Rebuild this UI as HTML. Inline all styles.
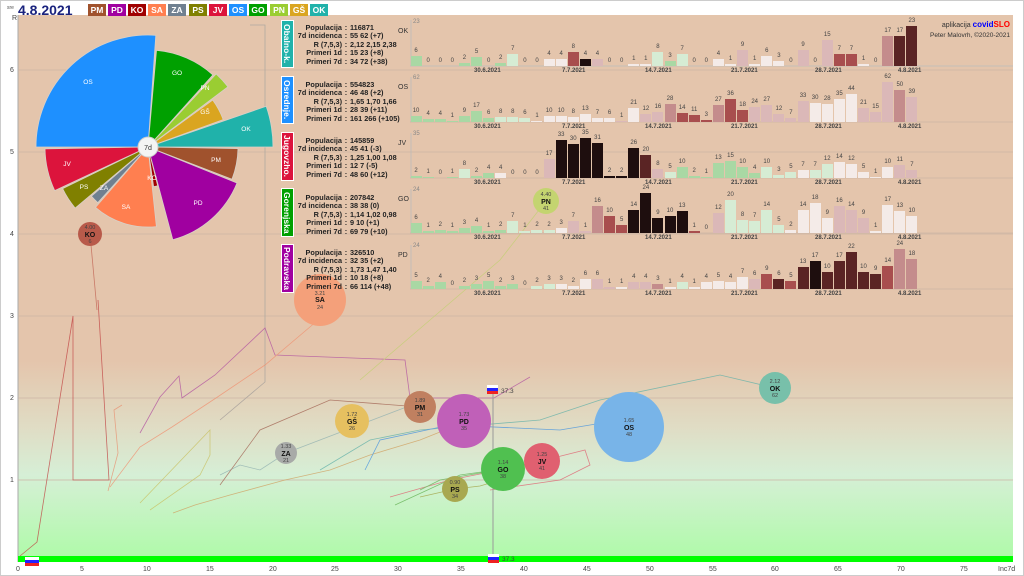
<!DOCTYPE html>
<html><head><meta charset="utf-8"><style>
*{margin:0;padding:0;box-sizing:border-box}
body{width:1024px;height:576px;position:relative;overflow:hidden;background:#fff;font-family:"Liberation Sans",sans-serif}
.frame{position:absolute;left:0;top:0;width:1024px;height:576px;border:1px solid #ccc}
.tag{position:absolute;top:4px;height:12px;width:18px;color:#fff;font:bold 8.5px "Liberation Sans",sans-serif;text-align:center;line-height:12px}
.pill{position:absolute;left:281px;width:13px;color:#fff;font:bold 8.5px "Liberation Sans",sans-serif;writing-mode:vertical-rl;text-align:center;line-height:13px;border:1px solid #fff}
.info{position:absolute;left:290px;font:bold 7.3px "Liberation Sans",sans-serif;color:#222;line-height:8.4px}
.info div{display:flex}.info span:first-child{width:52px;text-align:right}.info span:nth-child(2){width:8px;text-align:center}
.row{position:absolute;left:410px;height:64px;display:flex;align-items:flex-end}
.row b{width:12.1px;display:flex;flex-direction:column;align-items:center;font:6px "Liberation Sans",sans-serif;color:#444;line-height:7px}
.row b::after{content:"";display:block;width:11px;height:calc(var(--v)*var(--k));background:var(--c,#a9d8a4);margin-top:1px}
.g{--c:#a9d8a4}.l{--c:#d6ecd4}.w{--c:#f4ebe8}.p{--c:#dbb8b8}.q{--c:#c48c8c}.r{--c:#a84e4e}.m{--c:#5a2424}.d{--c:#1e0e0e}
.dt{position:absolute;font:bold 6px "Liberation Sans",sans-serif;color:#444}
.code{position:absolute;left:398px;font:7px "Liberation Sans",sans-serif;color:#333}
.mx{position:absolute;left:413px;font:6px "Liberation Sans",sans-serif;color:#888}
</style></head><body>
<svg width="1024" height="576" style="position:absolute;left:0;top:0">
<defs><linearGradient id="bg" x1="0" y1="0" x2="0" y2="1">
<stop offset="0" stop-color="#e4c5ac"/><stop offset="0.64" stop-color="#e4c5ac"/><stop offset="0.76" stop-color="#e0dcc4"/><stop offset="0.85" stop-color="#d6efd6"/><stop offset="1" stop-color="#b0faaa"/></linearGradient></defs>
<rect x="18" y="15" width="995" height="541" fill="url(#bg)"/>
<line x1="18" y1="15" x2="18" y2="562" stroke="#aaa"/>
<g stroke="#cdb5a5" stroke-width="0.8">
<line x1="18" y1="70" x2="1013" y2="70"/><line x1="18" y1="152" x2="1013" y2="152"/><line x1="18" y1="234" x2="1013" y2="234"/><line x1="18" y1="316" x2="1013" y2="316"/><line x1="18" y1="398" x2="1013" y2="398"/><line x1="18" y1="480" x2="1013" y2="480"/>
<line x1="410" y1="122" x2="1013" y2="122"/><line x1="410" y1="178" x2="1013" y2="178"/><line x1="410" y1="233" x2="1013" y2="233"/><line x1="410" y1="289" x2="1013" y2="289"/>
</g>
<polyline points="250,25 265,25 265,382 220,420" fill="none" stroke="#b0a8a0" stroke-width="0.8"/>
<rect x="18" y="556" width="995" height="6" fill="#0f0"/>
<g font-size="7" fill="#444">
<text x="12" y="20">R</text><text x="10" y="72">6</text><text x="10" y="154">5</text><text x="10" y="236">4</text><text x="10" y="318">3</text><text x="10" y="400">2</text><text x="10" y="482">1</text>
<text x="16" y="571">0</text><text x="80" y="571">5</text><text x="143" y="571">10</text><text x="206" y="571">15</text><text x="269" y="571">20</text><text x="331" y="571">25</text><text x="394" y="571">30</text><text x="457" y="571">35</text><text x="520" y="571">40</text><text x="583" y="571">45</text><text x="646" y="571">50</text><text x="709" y="571">55</text><text x="771" y="571">60</text><text x="834" y="571">65</text><text x="897" y="571">70</text><text x="960" y="571">75</text><text x="998" y="571">Inc7d</text>
</g>
<g fill="none" stroke-width="0.8" opacity="0.75">
<polyline points="20,556 37,542 73,316 73,480 109,480 98,300" stroke="#c04040"/>
<polyline points="108,491 118,453 114,410 122,405" stroke="#e89070"/>
<polyline points="140,433 160,397 179,376 182,398 215,375 265,328 275,355 300,356 405,360 410,398 494,398 530,377" stroke="#b050a0"/>
<polyline points="110,487 140,447 172,427 216,398 265,365 330,310" stroke="#f09070"/>
<polyline points="140,503 210,430 210,455 200,475 150,510" stroke="#c8c060"/>
<polyline points="220,475 240,465 260,470 286,453 320,440 430,398" stroke="#90b0b0"/>
<polyline points="173,513 195,505 230,495 285,480 330,470 370,455 420,440 470,420" stroke="#d0a060"/>
<polyline points="220,485 260,430 330,400 420,407" stroke="#a06050"/>
<polyline points="320,470 370,440 420,430 540,420 600,400 720,375 775,388" stroke="#60b0a8"/>
<polyline points="365,470 380,440 450,425 560,430 620,420 629,427" stroke="#4090e0"/>
<polyline points="390,497 450,480 500,470 545,460 585,450 590,465 560,480 490,490" stroke="#e06070"/>
<polyline points="395,505 460,475 503,469 440,480 420,490" stroke="#60b050"/>
<polyline points="420,497 455,489 480,486 500,480" stroke="#a0a040"/>
<polyline points="90,234 97,310" stroke="#c06050"/>
<polyline points="546,201 500,260 430,320 360,380" stroke="#c0d070"/>
</g>
<line x1="493" y1="392" x2="493" y2="558" stroke="#999"/>
<rect x="487" y="385" width="11" height="3" fill="#fff"/><rect x="487" y="388" width="11" height="3" fill="#22f"/><rect x="487" y="391" width="11" height="3" fill="#e22"/>
<text x="501" y="393" font-size="6.5" fill="#444">37.3</text>
<rect x="488" y="554" width="11" height="3" fill="#fff"/><rect x="488" y="557" width="11" height="3" fill="#22f"/><rect x="488" y="560" width="11" height="3" fill="#e22"/>
<text x="502" y="561" font-size="6.5" fill="#444">37.3</text>
<rect x="25" y="557" width="14" height="3" fill="#fff"/><rect x="25" y="560" width="14" height="3" fill="#22f"/><rect x="25" y="563" width="14" height="3" fill="#e22"/>
<g stroke="#d8d0c8" stroke-width="0.8">
<path d="M148 147 L36 147 A112 112 0 0 1 155.8 35.3 Z" fill="#1e90ff"/>
<path d="M148 147 L156.5 50.4 A97 97 0 0 1 212.9 74.9 Z" fill="#00a000"/>
<path d="M148 147 L216.2 73.9 A100 100 0 0 1 227.9 86.8 Z" fill="#9acd32"/>
<path d="M148 147 L212.7 100 A80 80 0 0 1 223.2 119.6 Z" fill="#daa520"/>
<path d="M148 147 L266.2 106.3 A125 125 0 0 1 273 147 Z" fill="#20b2aa"/>
<path d="M148 147 L238 148.6 A90 90 0 0 1 232 179.2 Z" fill="#a0522d"/>
<path d="M148 147 L237 183 A96 96 0 0 1 172.8 239.7 Z" fill="#a000a0"/>
<path d="M148 147 L157.7 185.8 A40 40 0 0 1 153.6 186.6 Z" fill="#a00000"/>
<path d="M148 147 L156.4 226.6 A80 80 0 0 1 95.5 207.4 Z" fill="#ff7f50"/>
<path d="M148 147 L97.8 202.7 A75 75 0 0 1 91.4 196.2 Z" fill="#708090"/>
<path d="M148 147 L75.2 208.1 A95 95 0 0 1 62.6 188.6 Z" fill="#808000"/>
<path d="M148 147 L54.7 190.6 A103 103 0 0 1 45 148.8 Z" fill="#dc143c"/>
</g>
<g font-size="6.5" fill="#fff" text-anchor="middle">
<text x="88" y="84">OS</text><text x="177" y="75">GO</text><text x="205" y="90">PN</text><text x="205" y="114">GŠ</text><text x="246" y="131">OK</text><text x="216" y="162">PM</text><text x="198" y="205">PD</text><text x="152" y="180">KO</text><text x="126" y="209">SA</text><text x="104" y="190">ZA</text><text x="84" y="189">PS</text><text x="67" y="166">JV</text>
</g>
<circle cx="148" cy="147" r="10" fill="#f4f4f4" stroke="#ccc"/><text x="148" y="150" font-size="7" text-anchor="middle" fill="#333">7d</text>
<g text-anchor="middle">
<circle cx="90" cy="234" r="12" fill="#b85a4a"/>
<circle cx="320" cy="300" r="26" fill="#f4a07a"/>
<circle cx="546" cy="201" r="13" fill="#c4d470"/>
<circle cx="352" cy="421" r="17" fill="#e6c060"/>
<circle cx="420" cy="407" r="16" fill="#c08060"/>
<circle cx="464" cy="421" r="27" fill="#c060b8"/>
<circle cx="286" cy="453" r="11" fill="#a8aaa8"/>
<circle cx="503" cy="469" r="22" fill="#50c050"/>
<circle cx="542" cy="461" r="18" fill="#e06070"/>
<circle cx="455" cy="489" r="13" fill="#a8a850"/>
<circle cx="629" cy="427" r="35" fill="#78b4e8"/>
<circle cx="775" cy="388" r="16" fill="#78c0aa"/>
<g font-size="5.5" fill="#444">
<text x="90" y="229">4.00</text><text x="90" y="243">6</text>
<text x="320" y="295">3.21</text><text x="320" y="309">24</text>
<text x="546" y="196">4.40</text><text x="546" y="210">41</text>
<text x="352" y="416">1.72</text><text x="352" y="430">26</text>
<text x="420" y="402">1.89</text><text x="420" y="416">31</text>
<text x="464" y="416">1.73</text><text x="464" y="430">35</text>
<text x="286" y="448">1.33</text><text x="286" y="462">21</text>
<text x="503" y="464">1.14</text><text x="503" y="478">38</text>
<text x="542" y="456">1.25</text><text x="542" y="470">41</text>
<text x="455" y="484">0.90</text><text x="455" y="498">34</text>
<text x="629" y="422">1.65</text><text x="629" y="436">48</text>
<text x="775" y="383">2.12</text><text x="775" y="397">62</text>
</g>
<g font-size="7" font-weight="bold" fill="#111">
<text x="90" y="237">KO</text><text x="320" y="302">SA</text><text x="546" y="204">PN</text><text x="352" y="424">GŠ</text><text x="420" y="410">PM</text><text x="464" y="424">PD</text><text x="286" y="456">ZA</text><text x="503" y="472">GO</text><text x="542" y="464">JV</text><text x="455" y="492">PS</text><text x="629" y="430">OS</text><text x="775" y="391">OK</text>
</g></g>
<g stroke="#bbb" stroke-width="0.8">
<line x1="411" y1="20" x2="411" y2="66"/><line x1="411" y1="77" x2="411" y2="122"/><line x1="411" y1="133" x2="411" y2="178"/><line x1="411" y1="189" x2="411" y2="233"/><line x1="411" y1="245" x2="411" y2="289"/>
<line x1="410" y1="66" x2="1013" y2="66"/>
</g>
<text x="1010" y="27" font-size="7" text-anchor="end" fill="#333">aplikacija <tspan fill="#00f" font-weight="bold" font-size="8">covid</tspan><tspan fill="#f00" font-weight="bold" font-size="8">SLO</tspan></text>
<text x="1010" y="37" font-size="6.5" text-anchor="end" fill="#333">Peter Malovrh, ©2020-2021</text>
</svg>

<div style="position:absolute;left:7px;top:5px;font-size:5px;color:#555">sre</div>
<div style="position:absolute;left:18px;top:2px;font:bold 14px 'Liberation Sans',sans-serif;color:#1a237e">4.8.2021</div>
<div class="tag" style="left:88px;background:#a0522d">PM</div>
<div class="tag" style="left:108px;background:#a000a0">PD</div>
<div class="tag" style="left:128px;background:#a00000">KO</div>
<div class="tag" style="left:148px;background:#ff7f50">SA</div>
<div class="tag" style="left:168px;background:#708090">ZA</div>
<div class="tag" style="left:189px;background:#808000">PS</div>
<div class="tag" style="left:209px;background:#dc143c">JV</div>
<div class="tag" style="left:229px;background:#1e90ff">OS</div>
<div class="tag" style="left:249px;background:#00a000">GO</div>
<div class="tag" style="left:270px;background:#9acd32">PN</div>
<div class="tag" style="left:290px;background:#daa520">GŠ</div>
<div class="tag" style="left:310px;background:#20b2aa">OK</div>

<div class="pill" style="top:20px;height:48px;background:#20b2aa">Obalno-k.</div>
<div class="pill" style="top:76px;height:48px;background:#1e90ff">Osrednje.</div>
<div class="pill" style="top:132px;height:49px;background:#dc143c">Jugovzho.</div>
<div class="pill" style="top:188px;height:49px;background:#00a000">Gorenjska</div>
<div class="pill" style="top:244px;height:49px;background:#a000a0">Podravska</div>

<div class="info" style="top:24px"><div><span>Populacija</span><span>:</span><span>116871</span></div><div><span>7d incidenca</span><span>:</span><span>55 62 (+7)</span></div><div><span>R (7,5,3)</span><span>:</span><span>2,12 2,15 2,38</span></div><div><span>Primeri 1d</span><span>:</span><span>15 23 (+8)</span></div><div><span>Primeri 7d</span><span>:</span><span>34 72 (+38)</span></div></div>
<div class="info" style="top:81px"><div><span>Populacija</span><span>:</span><span>554823</span></div><div><span>7d incidenca</span><span>:</span><span>46 48 (+2)</span></div><div><span>R (7,5,3)</span><span>:</span><span>1,65 1,70 1,66</span></div><div><span>Primeri 1d</span><span>:</span><span>28 39 (+11)</span></div><div><span>Primeri 7d</span><span>:</span><span>161 266 (+105)</span></div></div>
<div class="info" style="top:137px"><div><span>Populacija</span><span>:</span><span>145859</span></div><div><span>7d incidenca</span><span>:</span><span>45 41 (-3)</span></div><div><span>R (7,5,3)</span><span>:</span><span>1,25 1,00 1,08</span></div><div><span>Primeri 1d</span><span>:</span><span>12 7 (-5)</span></div><div><span>Primeri 7d</span><span>:</span><span>48 60 (+12)</span></div></div>
<div class="info" style="top:194px"><div><span>Populacija</span><span>:</span><span>207842</span></div><div><span>7d incidenca</span><span>:</span><span>38 38 (0)</span></div><div><span>R (7,5,3)</span><span>:</span><span>1,14 1,02 0,98</span></div><div><span>Primeri 1d</span><span>:</span><span>9 10 (+1)</span></div><div><span>Primeri 7d</span><span>:</span><span>69 79 (+10)</span></div></div>
<div class="info" style="top:249px"><div><span>Populacija</span><span>:</span><span>326510</span></div><div><span>7d incidenca</span><span>:</span><span>32 35 (+2)</span></div><div><span>R (7,5,3)</span><span>:</span><span>1,73 1,47 1,40</span></div><div><span>Primeri 1d</span><span>:</span><span>10 18 (+8)</span></div><div><span>Primeri 7d</span><span>:</span><span>66 114 (+48)</span></div></div>

<div class="code" style="top:28px">OK</div><div class="mx" style="top:19px">23</div>
<div class="code" style="top:84px">OS</div><div class="mx" style="top:75px">62</div>
<div class="code" style="top:140px">JV</div><div class="mx" style="top:131px">35</div>
<div class="code" style="top:196px">GO</div><div class="mx" style="top:187px">24</div>
<div class="code" style="top:252px">PD</div><div class="mx" style="top:243px">24</div>

<div class="row" style="top:2px;--k:1.74px">
<b class=g style=--v:6>6</b><b class=g style=--v:0>0</b><b class=g style=--v:0>0</b><b class=g style=--v:0>0</b><b class=g style=--v:2>2</b><b class=g style=--v:5>5</b><b class=g style=--v:0>0</b><b class=g style=--v:2>2</b><b class=l style=--v:7>7</b><b class=g style=--v:0>0</b><b class=g style=--v:0>0</b><b class=w style=--v:4>4</b><b class=w style=--v:4>4</b><b class=r style=--v:8>8</b><b class=d style=--v:4>4</b><b class=p style=--v:4>4</b><b class=w style=--v:0>0</b><b class=w style=--v:0>0</b><b class=w style=--v:1>1</b><b class=w style=--v:1>1</b><b class=l style=--v:8>8</b><b class=g style=--v:3>3</b><b class=l style=--v:7>7</b><b class=w style=--v:0>0</b><b class=w style=--v:0>0</b><b class=w style=--v:4>4</b><b class=w style=--v:1>1</b><b class=p style=--v:9>9</b><b class=w style=--v:1>1</b><b class=w style=--v:6>6</b><b class=w style=--v:3>3</b><b class=w style=--v:0>0</b><b class=p style=--v:9>9</b><b class=w style=--v:0>0</b><b class=p style=--v:15>15</b><b class=r style=--v:7>7</b><b class=r style=--v:7>7</b><b class=w style=--v:1>1</b><b class=w style=--v:0>0</b><b class=q style=--v:17>17</b><b class=m style=--v:17>17</b><b class=m style=--v:23>23</b></div>
<div class="row" style="top:58px;--k:0.645px">
<b class=g style=--v:10>10</b><b class=g style=--v:4>4</b><b class=g style=--v:4>4</b><b class=g style=--v:1>1</b><b class=g style=--v:9>9</b><b class=g style=--v:17>17</b><b class=g style=--v:6>6</b><b class=l style=--v:8>8</b><b class=l style=--v:8>8</b><b class=l style=--v:6>6</b><b class=w style=--v:1>1</b><b class=w style=--v:10>10</b><b class=w style=--v:10>10</b><b class=w style=--v:8>8</b><b class=w style=--v:13>13</b><b class=w style=--v:7>7</b><b class=w style=--v:6>6</b><b class=p style=--v:1>1</b><b class=w style=--v:21>21</b><b class=p style=--v:12>12</b><b class=p style=--v:16>16</b><b class=q style=--v:28>28</b><b class=r style=--v:14>14</b><b class=r style=--v:11>11</b><b class=r style=--v:3>3</b><b class=q style=--v:27>27</b><b class=r style=--v:36>36</b><b class=r style=--v:18>18</b><b class=p style=--v:24>24</b><b class=p style=--v:27>27</b><b class=p style=--v:12>12</b><b class=p style=--v:7>7</b><b class=p style=--v:33>33</b><b class=w style=--v:30>30</b><b class=w style=--v:28>28</b><b class=w style=--v:35>35</b><b class=w style=--v:44>44</b><b class=p style=--v:21>21</b><b class=p style=--v:15>15</b><b class=p style=--v:62>62</b><b class=q style=--v:50>50</b><b class=p style=--v:39>39</b></div>
<div class="row" style="top:114px;--k:1.14px">
<b class=g style=--v:2>2</b><b class=g style=--v:1>1</b><b class=g style=--v:0>0</b><b class=g style=--v:1>1</b><b class=l style=--v:8>8</b><b class=g style=--v:2>2</b><b class=g style=--v:4>4</b><b class=w style=--v:4>4</b><b class=w style=--v:0>0</b><b class=w style=--v:0>0</b><b class=w style=--v:0>0</b><b class=p style=--v:17>17</b><b class=d style=--v:33>33</b><b class=d style=--v:30>30</b><b class=d style=--v:35>35</b><b class=d style=--v:31>31</b><b class=d style=--v:2>2</b><b class=d style=--v:2>2</b><b class=d style=--v:26>26</b><b class=m style=--v:20>20</b><b class=p style=--v:8>8</b><b class=l style=--v:5>5</b><b class=g style=--v:10>10</b><b class=g style=--v:2>2</b><b class=g style=--v:1>1</b><b class=g style=--v:13>13</b><b class=g style=--v:15>15</b><b class=g style=--v:10>10</b><b class=g style=--v:4>4</b><b class=l style=--v:10>10</b><b class=l style=--v:3>3</b><b class=l style=--v:5>5</b><b class=w style=--v:7>7</b><b class=l style=--v:7>7</b><b class=l style=--v:12>12</b><b class=w style=--v:14>14</b><b class=w style=--v:12>12</b><b class=w style=--v:5>5</b><b class=w style=--v:1>1</b><b class=w style=--v:10>10</b><b class=p style=--v:11>11</b><b class=p style=--v:7>7</b></div>
<div class="row" style="top:169px;--k:1.67px">
<b class=g style=--v:6>6</b><b class=g style=--v:1>1</b><b class=g style=--v:2>2</b><b class=g style=--v:1>1</b><b class=g style=--v:3>3</b><b class=g style=--v:4>4</b><b class=g style=--v:1>1</b><b class=g style=--v:2>2</b><b class=l style=--v:7>7</b><b class=l style=--v:1>1</b><b class=l style=--v:2>2</b><b class=l style=--v:2>2</b><b class=w style=--v:3>3</b><b class=p style=--v:7>7</b><b class=p style=--v:1>1</b><b class=q style=--v:16>16</b><b class=r style=--v:10>10</b><b class=r style=--v:5>5</b><b class=d style=--v:14>14</b><b class=d style=--v:24>24</b><b class=d style=--v:9>9</b><b class=d style=--v:10>10</b><b class=d style=--v:13>13</b><b class=r style=--v:1>1</b><b class=p style=--v:0>0</b><b class=p style=--v:12>12</b><b class=l style=--v:20>20</b><b class=l style=--v:8>8</b><b class=l style=--v:7>7</b><b class=l style=--v:14>14</b><b class=l style=--v:5>5</b><b class=w style=--v:2>2</b><b class=w style=--v:14>14</b><b class=w style=--v:18>18</b><b class=w style=--v:9>9</b><b class=p style=--v:16>16</b><b class=p style=--v:14>14</b><b class=p style=--v:9>9</b><b class=w style=--v:1>1</b><b class=w style=--v:17>17</b><b class=w style=--v:13>13</b><b class=w style=--v:10>10</b></div>
<div class="row" style="top:225px;--k:1.67px">
<b class=g style=--v:5>5</b><b class=g style=--v:2>2</b><b class=g style=--v:4>4</b><b class=g style=--v:0>0</b><b class=g style=--v:2>2</b><b class=g style=--v:3>3</b><b class=g style=--v:5>5</b><b class=g style=--v:2>2</b><b class=g style=--v:3>3</b><b class=g style=--v:0>0</b><b class=l style=--v:2>2</b><b class=l style=--v:3>3</b><b class=w style=--v:3>3</b><b class=w style=--v:2>2</b><b class=w style=--v:6>6</b><b class=p style=--v:6>6</b><b class=p style=--v:1>1</b><b class=w style=--v:1>1</b><b class=p style=--v:4>4</b><b class=p style=--v:4>4</b><b class=q style=--v:3>3</b><b class=w style=--v:1>1</b><b class=l style=--v:4>4</b><b class=w style=--v:1>1</b><b class=w style=--v:4>4</b><b class=w style=--v:5>5</b><b class=w style=--v:4>4</b><b class=w style=--v:7>7</b><b class=p style=--v:6>6</b><b class=r style=--v:9>9</b><b class=m style=--v:6>6</b><b class=r style=--v:5>5</b><b class=m style=--v:13>13</b><b class=d style=--v:17>17</b><b class=m style=--v:10>10</b><b class=m style=--v:17>17</b><b class=m style=--v:22>22</b><b class=m style=--v:10>10</b><b class=m style=--v:9>9</b><b class=r style=--v:14>14</b><b class=q style=--v:24>24</b><b class=q style=--v:18>18</b></div>

<div class="dt" style="left:474px;top:68px">30.6.2021</div><div class="dt" style="left:562px;top:68px">7.7.2021</div><div class="dt" style="left:645px;top:68px">14.7.2021</div><div class="dt" style="left:731px;top:68px">21.7.2021</div><div class="dt" style="left:815px;top:68px">28.7.2021</div><div class="dt" style="left:898px;top:68px">4.8.2021</div>
<div class="dt" style="left:474px;top:124px">30.6.2021</div><div class="dt" style="left:562px;top:124px">7.7.2021</div><div class="dt" style="left:645px;top:124px">14.7.2021</div><div class="dt" style="left:731px;top:124px">21.7.2021</div><div class="dt" style="left:815px;top:124px">28.7.2021</div><div class="dt" style="left:898px;top:124px">4.8.2021</div>
<div class="dt" style="left:474px;top:180px">30.6.2021</div><div class="dt" style="left:562px;top:180px">7.7.2021</div><div class="dt" style="left:645px;top:180px">14.7.2021</div><div class="dt" style="left:731px;top:180px">21.7.2021</div><div class="dt" style="left:815px;top:180px">28.7.2021</div><div class="dt" style="left:898px;top:180px">4.8.2021</div>
<div class="dt" style="left:474px;top:235px">30.6.2021</div><div class="dt" style="left:562px;top:235px">7.7.2021</div><div class="dt" style="left:645px;top:235px">14.7.2021</div><div class="dt" style="left:731px;top:235px">21.7.2021</div><div class="dt" style="left:815px;top:235px">28.7.2021</div><div class="dt" style="left:898px;top:235px">4.8.2021</div>
<div class="dt" style="left:474px;top:291px">30.6.2021</div><div class="dt" style="left:562px;top:291px">7.7.2021</div><div class="dt" style="left:645px;top:291px">14.7.2021</div><div class="dt" style="left:731px;top:291px">21.7.2021</div><div class="dt" style="left:815px;top:291px">28.7.2021</div><div class="dt" style="left:898px;top:291px">4.8.2021</div>
<div class="frame"></div>
</body></html>
